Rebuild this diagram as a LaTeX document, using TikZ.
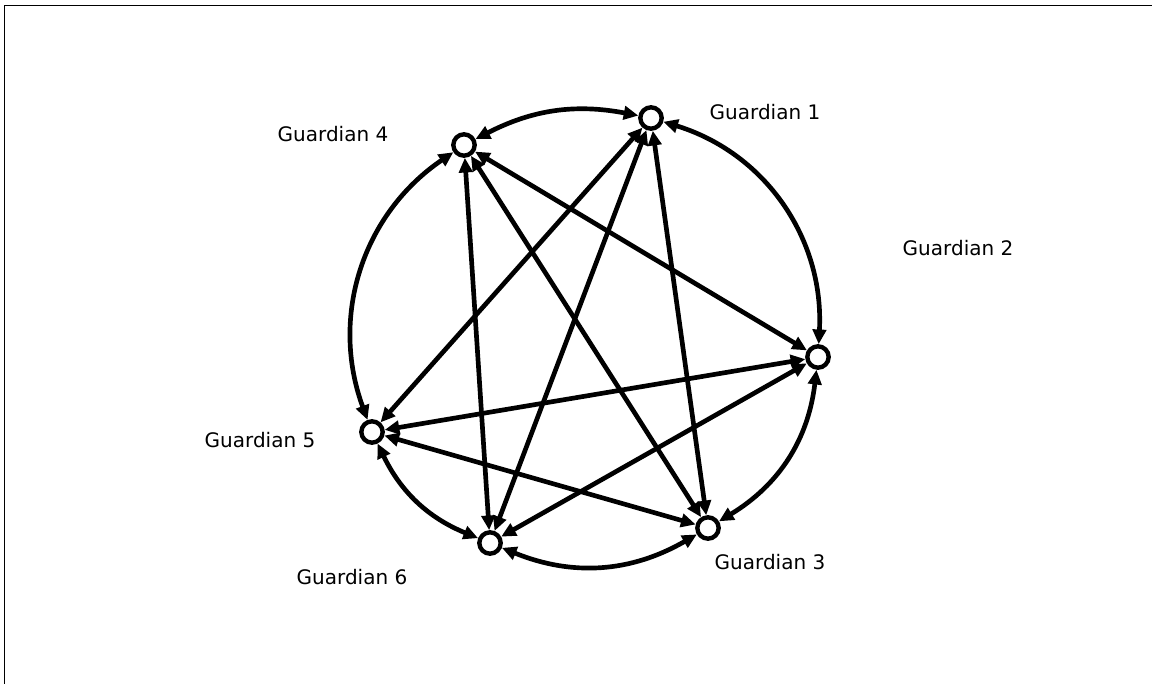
\documentclass[tikz,border=0pt]{standalone}
\usepackage{fontspec}
\setmainfont{DejaVu Sans}
\usepackage{tikz}
\usetikzlibrary{arrows.meta, positioning}

\begin{document}
\begin{tikzpicture}[
    x=0.75pt, y=-0.75pt,
    gnode/.style={draw, circle, line width=3.3pt, minimum size=16pt, inner sep=0pt, fill=white},
    link/.style={line width=3.5pt, {Triangle[length=11pt, width=10pt]}-{Triangle[length=11pt, width=10pt]}},
    glabel/.style={font=\fontsize{15}{17}\selectfont, inner sep=0pt},
  ]
    \useasboundingbox (0,0) rectangle (1152,684);
    % ── Frame ──
    \draw[line width=1.4pt, black] (4.5,5.5) rectangle (1170,700);

    % ── Guardians ──
    \node[gnode] (g1) at (651,118) {};
    \node[gnode] (g2) at (818,357) {};
    \node[gnode] (g3) at (708,528) {};
    \node[gnode] (g4) at (464,145) {};
    \node[gnode] (g5) at (372,432) {};
    \node[gnode] (g6) at (490,543) {};
    % Labels
    \node[glabel] (l1) at (765,112) {Guardian 1};
    \node[glabel] (l2) at (958,248) {Guardian 2};
    \node[glabel] (l3) at (770,562) {Guardian 3};
    \node[glabel] (l4) at (333,134) {Guardian 4};
    \node[glabel] (l5) at (260,440) {Guardian 5};
    \node[glabel] (l6) at (352,577) {Guardian 6};

    % Outer ring (curved)
    \draw[link] (g1) to[bend left=38] (g2);
    \draw[link] (g2) to[bend left=26] (g3);
    \draw[link] (g3) to[bend left=26] (g6);
    \draw[link] (g6) to[bend left=21] (g5);
    \draw[link] (g5) to[bend left=38] (g4);
    \draw[link] (g4) to[bend left=19] (g1);
    % Inner links (straight)
    \draw[link] (g1) -- (g3);
    \draw[link] (g1) -- (g5);
    \draw[link] (g1) -- (g6);
    \draw[link] (g2) -- (g4);
    \draw[link] (g2) -- (g5);
    \draw[link] (g2) -- (g6);
    \draw[link] (g3) -- (g4);
    \draw[link] (g3) -- (g5);
    \draw[link] (g4) -- (g6);
  \end{tikzpicture}
\end{document}
